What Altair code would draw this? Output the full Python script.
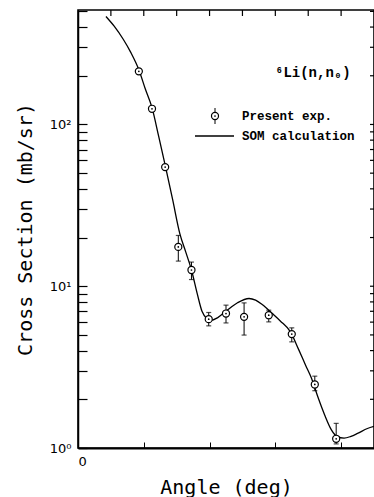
import math
import altair as alt
import pandas as pd

# ---------------- data ----------------
curve_angle = [17, 22, 27.6, 32, 37, 41, 45, 49, 53, 57.5, 62, 65.5, 69, 72.5, 75.4, 78.5, 81, 85,
               90, 97, 104, 108, 112, 118, 123, 129.3, 134, 138.4, 142, 146, 150, 154, 157.5,
               161.8, 166, 170, 176, 180]
curve_value = [465, 405, 335, 280, 218, 165, 127, 85, 56, 34.5, 21, 16.3, 12.6, 9.0, 7.0, 6.3, 6.15, 6.4,
               7.0, 7.9, 8.4, 8.2, 7.7, 6.8, 6.1, 5.2, 4.1, 3.25, 2.7, 2.05, 1.6, 1.3, 1.18,
               1.15, 1.18, 1.23, 1.32, 1.36]

exp_angle = [37, 45, 53, 61, 69, 79.5, 90, 101, 116, 130, 144, 157]
exp_value = [213, 125, 54.5, 17.5, 12.6, 6.26, 6.78, 6.47, 6.62, 5.06, 2.47, 1.14]
exp_lo = [206, 121, 52.8, 14.3, 11.0, 5.69, 5.93, 4.99, 6.02, 4.53, 2.26, 1.06]
exp_hi = [220, 129, 56.2, 20.6, 14.1, 6.88, 7.64, 7.89, 7.11, 5.53, 2.78, 1.42]

x_tick_values = [0, 20, 40, 60, 80, 100, 120, 140, 160, 180]
y_tick_values = [1, 2, 3, 4, 5, 6, 7, 8, 9, 10, 20, 30, 40, 50, 60, 70, 80, 90,
                 100, 200, 300, 400, 500]

legend_labels = ["Present exp.", "SOM calculation"]
reaction_label = "⁶Li(n,n₀)"
x_title = "Angle (deg)"
y_title = "Cross Section (mb/sr)"

# ---------------- layout ----------------
W, H = 296, 438
X_MIN, X_MAX = 0, 180
Y_MIN, Y_MAX = 1, 510
PX_PER_DECADE = H / math.log10(Y_MAX / Y_MIN)
PX_PER_DEG = W / (X_MAX - X_MIN)
X_TICK_LEN, Y_TICK_LEN = 6, 9
xs = alt.Scale(domain=[X_MIN, X_MAX], nice=False, zero=False)
ys = alt.Scale(type="log", domain=[Y_MIN, Y_MAX], nice=False)

curve_df = pd.DataFrame({"angle": curve_angle, "xs": curve_value})
exp_df = pd.DataFrame({"angle": exp_angle, "xs": exp_value, "lo": exp_lo, "hi": exp_hi})
one = pd.DataFrame({"k": [0]})

# inner tick segments on the top and right frame edges, built from the tick value lists
tick_rows = []
top2 = Y_MAX * 10 ** (-X_TICK_LEN / PX_PER_DECADE)
for v in x_tick_values[1:-1]:
    tick_rows.append({"tx": v, "tx2": v, "ty": Y_MAX, "ty2": top2})
right2 = X_MAX - 4 / PX_PER_DEG
for v in y_tick_values[1:]:
    tick_rows.append({"tx": X_MAX, "tx2": right2, "ty": v, "ty2": v})
ticks_df = pd.DataFrame(tick_rows)

# main axes: inward ticks (negative size given as an expression), labels only at decades / 0, 100
curve = alt.Chart(curve_df).mark_line(color="black", strokeWidth=1.3, interpolate="monotone").encode(
    x=alt.X("angle:Q", scale=xs, axis=alt.Axis(
        orient="bottom", values=x_tick_values, ticks=True, tickColor="black", tickWidth=1,
        tickSize={"expr": str(-X_TICK_LEN)},
        labelExpr="datum.value == 0 || datum.value == 100 ? datum.label : ''",
        labelOverlap=False, domain=True, domainWidth=2,
        domainColor="black", grid=False, labelFont="DejaVu Sans", labelFontSize=13,
        labelColor="black", labelPadding=7 + X_TICK_LEN, title=x_title, titleFont="DejaVu Sans Mono",
        titleFontSize=20, titleFontWeight="normal", titleColor="black", titleX=148, titleY=39,
        titleBaseline="middle", titleAlign="center")),
    y=alt.Y("xs:Q", scale=ys, axis=alt.Axis(
        orient="left", values=y_tick_values, ticks=True, tickColor="black", tickWidth=1.2,
        tickSize={"expr": str(-Y_TICK_LEN)},
        labelOverlap=False, domain=True, domainWidth=1.5,
        domainColor="black", grid=False, labelFont="DejaVu Sans", labelFontSize=13,
        labelColor="black", labelPadding=7 + Y_TICK_LEN,
        labelExpr="datum.value == 1 ? '10⁰' : datum.value == 10 ? '10¹' : datum.value == 100 ? '10²' : ''",
        title=y_title, titleFont="DejaVu Sans Mono", titleFontSize=20, titleFontWeight="normal",
        titleColor="black", titleAngle=270, titleX=-53, titleY=219, titleBaseline="middle",
        titleAlign="center")),
)

bars = alt.Chart(exp_df).mark_rule(color="black", strokeWidth=1).encode(
    x=alt.X("angle:Q", scale=xs),
    y=alt.Y("lo:Q", scale=ys),
    y2="hi:Q",
)
cap_hi = alt.Chart(exp_df).mark_tick(color="black", orient="horizontal", size=5, thickness=1.2).encode(
    x=alt.X("angle:Q", scale=xs),
    y=alt.Y("hi:Q", scale=ys),
)
cap_lo = alt.Chart(exp_df).mark_tick(color="black", orient="horizontal", size=5, thickness=1.2).encode(
    x=alt.X("angle:Q", scale=xs),
    y=alt.Y("lo:Q", scale=ys),
)
circles = alt.Chart(exp_df).mark_point(shape="circle", size=50, filled=True, fill="white",
                                       stroke="black", strokeWidth=1.2, opacity=1).encode(
    x=alt.X("angle:Q", scale=xs),
    y=alt.Y("xs:Q", scale=ys),
)
dots = alt.Chart(exp_df).mark_point(shape="circle", size=3, filled=True, color="black", opacity=1).encode(
    x=alt.X("angle:Q", scale=xs),
    y=alt.Y("xs:Q", scale=ys),
)
frame_ticks = alt.Chart(ticks_df).mark_rule(color="black", strokeWidth=1.2).encode(
    x=alt.X("tx:Q", scale=xs),
    x2="tx2:Q",
    y=alt.Y("ty:Q", scale=ys),
    y2="ty2:Q",
)

# ---------------- legend & annotation ----------------
leg_bar = alt.Chart(one).mark_rule(color="black", strokeWidth=1).encode(
    x=alt.value(137), y=alt.value(98), y2=alt.value(114))
leg_circle = alt.Chart(one).mark_point(shape="circle", size=50, filled=True, fill="white",
                                       stroke="black", strokeWidth=1.2, opacity=1).encode(
    x=alt.value(137), y=alt.value(106))
leg_dot = alt.Chart(one).mark_point(shape="circle", size=3, filled=True, color="black", opacity=1).encode(
    x=alt.value(137), y=alt.value(106))
leg_line = alt.Chart(one).mark_rule(color="black", strokeWidth=1.3).encode(
    x=alt.value(117), x2=alt.value(156), y=alt.value(126))
leg_t1 = alt.Chart(one).mark_text(text=legend_labels[0], font="Liberation Mono", fontSize=12.5,
                                  fontWeight="bold", align="left", baseline="middle", color="black").encode(
    x=alt.value(164), y=alt.value(106))
leg_t2 = alt.Chart(one).mark_text(text=legend_labels[1], font="Liberation Mono", fontSize=12.5,
                                  fontWeight="bold", align="left", baseline="middle", color="black").encode(
    x=alt.value(164), y=alt.value(126))
react = alt.Chart(one).mark_text(text=reaction_label, font="Liberation Mono", fontSize=14,
                                 fontWeight="bold", align="left", baseline="middle", color="black").encode(
    x=alt.value(197), y=alt.value(63))

chart = alt.layer(
    curve, bars, cap_hi, cap_lo, circles, dots,
    leg_bar, leg_circle, leg_dot, leg_line, leg_t1, leg_t2, react, frame_ticks,
).properties(
    width=W, height=H,
    autosize=alt.AutoSizeParams(type="none"),
    padding={"left": 78, "top": 10, "right": 0, "bottom": 49},
    background="white",
).configure_view(stroke="black", strokeWidth=1.6)

chart.save("out.html", embed_options={"renderer": "svg", "actions": False})
